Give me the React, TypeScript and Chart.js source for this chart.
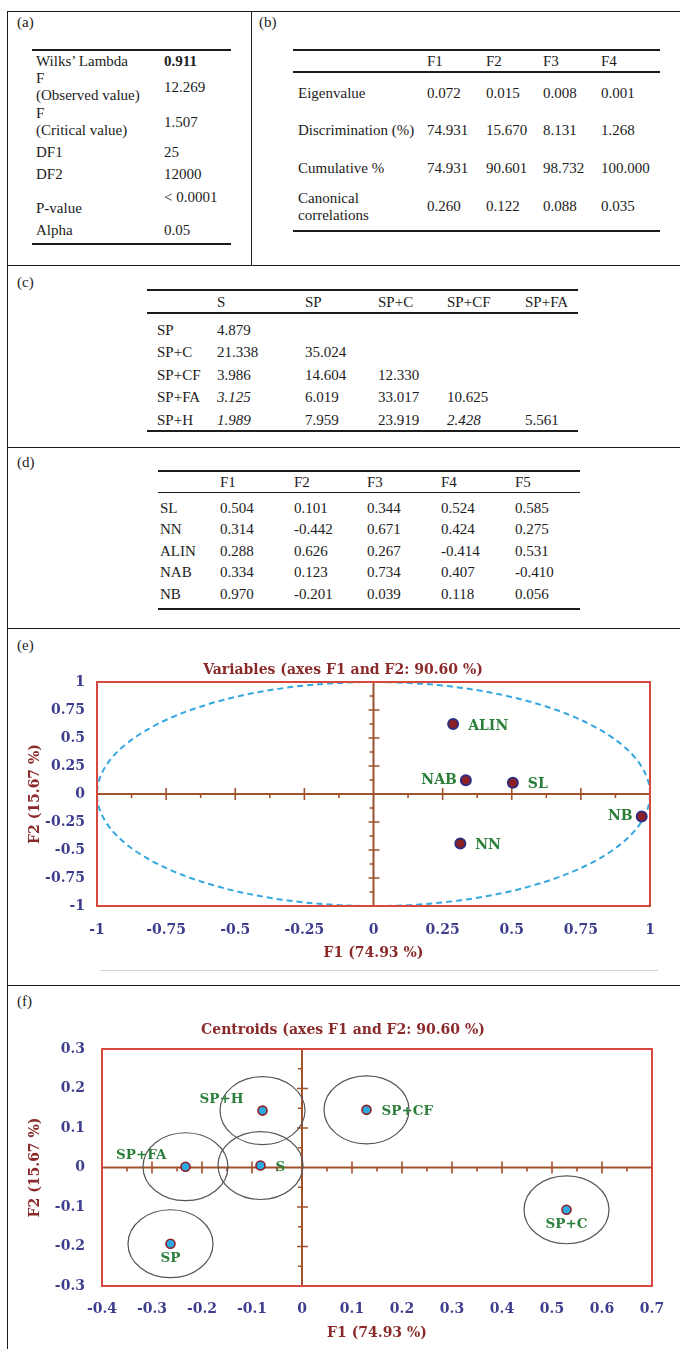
import React, { useEffect, useRef } from "react";
import { Chart, registerables } from "chart.js";
Chart.register(...registerables);

// ---------------- DATA ----------------
// (a)
const aLabels: string[][] = [["Wilks’ Lambda"], ["F", "(Observed value)"], ["F", "(Critical value)"], ["DF1"], ["DF2"], ["P-value"], ["Alpha"]];
const aValues: string[] = ["0.911", "12.269", "1.507", "25", "12000", "< 0.0001", "0.05"];
// (b)
const bCols: string[] = ["F1", "F2", "F3", "F4"];
const bRowLabels: string[][] = [["Eigenvalue"], ["Discrimination (%)"], ["Cumulative %"], ["Canonical", "correlations"]];
const bEigenvalue: string[] = ["0.072", "0.015", "0.008", "0.001"];
const bDiscrimination: string[] = ["74.931", "15.670", "8.131", "1.268"];
const bCumulative: string[] = ["74.931", "90.601", "98.732", "100.000"];
const bCanonical: string[] = ["0.260", "0.122", "0.088", "0.035"];
// (c)
const cCols: string[] = ["S", "SP", "SP+C", "SP+CF", "SP+FA"];
const cRows: string[] = ["SP", "SP+C", "SP+CF", "SP+FA", "SP+H"];
const cSP: string[] = ["4.879"];
const cSPC: string[] = ["21.338", "35.024"];
const cSPCF: string[] = ["3.986", "14.604", "12.330"];
const cSPFA: string[] = ["3.125", "6.019", "33.017", "10.625"];
const cSPH: string[] = ["1.989", "7.959", "23.919", "2.428", "5.561"];
const cItalic: string[] = ["3-0", "4-0", "4-3"];
// (d)
const dCols: string[] = ["F1", "F2", "F3", "F4", "F5"];
const dRows: string[] = ["SL", "NN", "ALIN", "NAB", "NB"];
const dSL: string[] = ["0.504", "0.101", "0.344", "0.524", "0.585"];
const dNN: string[] = ["0.314", "-0.442", "0.671", "0.424", "0.275"];
const dALIN: string[] = ["0.288", "0.626", "0.267", "-0.414", "0.531"];
const dNAB: string[] = ["0.334", "0.123", "0.734", "0.407", "-0.410"];
const dNB: string[] = ["0.970", "-0.201", "0.039", "0.118", "0.056"];
// (e) variables
const eVars: string[] = ["SL", "NN", "ALIN", "NAB", "NB"];
const eF1: number[] = [0.504, 0.314, 0.288, 0.334, 0.970];
const eF2: number[] = [0.101, -0.442, 0.626, 0.123, -0.201];
const eTicks: number[] = [-1, -0.75, -0.5, -0.25, 0, 0.25, 0.5, 0.75, 1];
const eTickLabels: string[] = ["-1", "-0.75", "-0.5", "-0.25", "0", "0.25", "0.5", "0.75", "1"];
// (f) centroids
const fGroups: string[] = ["S", "SP", "SP+C", "SP+CF", "SP+FA", "SP+H"];
const fF1: number[] = [-0.083, -0.263, 0.529, 0.129, -0.233, -0.079];
const fF2: number[] = [0.005, -0.193, -0.107, 0.146, 0.002, 0.144];
const fXTicks: number[] = [-0.4, -0.3, -0.2, -0.1, 0, 0.1, 0.2, 0.3, 0.4, 0.5, 0.6, 0.7];
const fXTickLabels: string[] = ["-0.4", "-0.3", "-0.2", "-0.1", "0", "0.1", "0.2", "0.3", "0.4", "0.5", "0.6", "0.7"];
const fYTicks: number[] = [-0.3, -0.2, -0.1, 0, 0.1, 0.2, 0.3];
const fYTickLabels: string[] = ["-0.3", "-0.2", "-0.1", "0", "0.1", "0.2", "0.3"];
const fEllipseRx = 0.085;
const fEllipseRy = 0.086;

// ---------------- STYLE ----------------
const eLabelPlace = ["right", "right", "right", "left", "left"];
const fLabelPlace = ["right", "below", "below", "right", "upleft", "upleft"];
const SERIF = '"Liberation Serif", "Times New Roman", serif';
const CHART_FONT = '"DejaVu Serif", serif';
const INK = "#1c1c1c";
const AXIS_C = "#A0522D";
const BOX_C = "#D9483F";
const TICK_C = "#3E3E8E";
const TITLE_C = "#8B2A2A";
const LABEL_C = "#2C7F3A";

const T = ({ x, y, children, bold, italic, align }: any) => (
  <div
    style={{
      position: "absolute",
      left: align === "center" ? x - 100 : x,
      width: align === "center" ? 200 : undefined,
      textAlign: align === "center" ? "center" : "left",
      top: y,
      transform: "translateY(-50%)",
      lineHeight: "17px",
      whiteSpace: "nowrap",
      fontWeight: bold ? "bold" : "normal",
      fontStyle: italic ? "italic" : "normal",
    }}
  >
    {children}
  </div>
);
const HL = ({ x1, x2, y, w = 1, c = INK }: any) => (
  <div style={{ position: "absolute", left: x1, top: y - w / 2, width: x2 - x1, height: w, background: c }} />
);
const VL = ({ x, y1, y2, w = 1, c = INK }: any) => (
  <div style={{ position: "absolute", left: x - w / 2, top: y1, width: w, height: y2 - y1, background: c }} />
);

function drawLabel(ctx: CanvasRenderingContext2D, text: string, px: number, py: number, place: string) {
  ctx.textBaseline = "middle";
  if (place === "right") { ctx.textAlign = "left"; ctx.fillText(text, px + 15, py + 2); }
  else if (place === "left") { ctx.textAlign = "right"; ctx.fillText(text, px - 9, py); }
  else if (place === "below") { ctx.textAlign = "center"; ctx.fillText(text, px, py + 15); }
  else { ctx.textAlign = "right"; ctx.fillText(text, px - 19, py - 11); }
}

function makeDecor(o: any) {
  return {
    id: "decor",
    beforeDatasetsDraw(chart: any) {
      const { ctx, chartArea: a } = chart;
      const xs = chart.scales.x, ys = chart.scales.y;
      const x0 = xs.getPixelForValue(0), y0 = ys.getPixelForValue(0);
      ctx.save();
      ctx.strokeStyle = AXIS_C;
      ctx.lineWidth = 2;
      ctx.beginPath();
      ctx.moveTo(a.left, y0); ctx.lineTo(a.right, y0);
      ctx.moveTo(x0, a.top); ctx.lineTo(x0, a.bottom);
      ctx.stroke();
      ctx.lineWidth = 1.6;
      ctx.beginPath();
      const half = o.minorStep;
      for (let v = xs.min + half; v < xs.max - 1e-9; v += half) {
        if (Math.abs(v) < 1e-9) continue;
        const px = xs.getPixelForValue(v);
        const major = Math.abs(Math.round(v / o.majorStep) * o.majorStep - v) < 1e-9;
        if (major) { ctx.moveTo(px, y0 - 6); ctx.lineTo(px, y0 + 6); }
        else { ctx.moveTo(px, y0); ctx.lineTo(px, y0 + 4); }
      }
      for (let v = ys.min + o.yMinorStep; v < ys.max - 1e-9; v += o.yMinorStep) {
        if (Math.abs(v) < 1e-9) continue;
        const py = ys.getPixelForValue(v);
        const major = Math.abs(Math.round(v / o.yMajorStep) * o.yMajorStep - v) < 1e-9;
        if (major) { ctx.moveTo(x0 - 5, py); ctx.lineTo(x0 + 6, py); }
        else { ctx.moveTo(x0 - 4, py); ctx.lineTo(x0, py); }
      }
      ctx.stroke();
      o.ellipses(ctx, xs, ys);
      ctx.strokeStyle = BOX_C;
      ctx.lineWidth = 2;
      ctx.setLineDash([]);
      ctx.strokeRect(a.left, a.top, a.right - a.left, a.bottom - a.top);
      ctx.restore();
    },
    afterDatasetsDraw(chart: any) {
      const { ctx } = chart;
      const xs = chart.scales.x, ys = chart.scales.y;
      ctx.save();
      ctx.fillStyle = LABEL_C;
      ctx.font = `bold ${o.labelSize}px ${CHART_FONT}`;
      o.names.forEach((n: string, i: number) => {
        drawLabel(ctx, n, xs.getPixelForValue(o.xs[i]), ys.getPixelForValue(o.ys[i]), o.place[i]);
      });
      ctx.fillStyle = TITLE_C;
      ctx.font = `bold 14px ${CHART_FONT}`;
      ctx.textAlign = "center";
      ctx.textBaseline = "middle";
      ctx.fillText(o.title, o.titleX, o.titleY);
      ctx.restore();
    },
  };
}

function buildConfig(o: any) {
  const X_AXIS_H = 55.4;
  const tickFont = { family: CHART_FONT, size: 14, weight: "bold" as const };
  const titleFont = { family: CHART_FONT, size: 14, weight: "bold" as const };
  return {
    type: "scatter" as const,
    data: {
      datasets: [
        {
          data: o.xs.map((v: number, i: number) => ({ x: v, y: o.ys[i] })),
          pointRadius: o.pointRadius,
          pointBackgroundColor: o.pointFill,
          pointBorderColor: o.pointStroke,
          pointBorderWidth: o.pointBorderWidth,
          showLine: false,
        },
      ],
    },
    options: {
      responsive: false,
      animation: false as const,
      devicePixelRatio: 1,
      layout: { padding: { left: 0, top: o.plot.top, right: 680 - o.plot.right, bottom: o.H - o.plot.bottom - X_AXIS_H } },
      plugins: { legend: { display: false }, tooltip: { enabled: false } },
      scales: {
        x: {
          type: "linear" as const,
          min: o.xTicks[0],
          max: o.xTicks[o.xTicks.length - 1],
          afterBuildTicks: (s: any) => { s.ticks = o.xTicks.map((v: number) => ({ value: v })); },
          afterFit: (s: any) => { s.height = X_AXIS_H; },
          grid: { display: false, drawTicks: false },
          border: { display: false },
          ticks: { padding: o.xTickPad, font: tickFont, color: TICK_C, autoSkip: false, maxRotation: 0, callback: (_v: any, i: number) => o.xLabels[i] },
          title: { display: true, text: "F1 (74.93 %)", font: titleFont, color: TITLE_C, padding: { top: 0, bottom: 0 } },
        },
        y: {
          type: "linear" as const,
          min: o.yTicks[0],
          max: o.yTicks[o.yTicks.length - 1],
          afterBuildTicks: (s: any) => { s.ticks = o.yTicks.map((v: number) => ({ value: v })); },
          afterFit: (s: any) => { s.width = o.plot.left; },
          grid: { display: false, drawTicks: false },
          border: { display: false },
          ticks: { padding: o.yTickPad, font: tickFont, color: TICK_C, autoSkip: false, callback: (_v: any, i: number) => o.yLabels[i] },
          title: { display: true, text: "F2 (15.67 %)", font: titleFont, color: TITLE_C, padding: { top: 26.6, bottom: 0 } },
        },
      },
    },
    plugins: [makeDecor(o)],
  };
}

function ChartCanvas({ top, height, opts }: any) {
  const ref = useRef<HTMLCanvasElement>(null);
  useEffect(() => {
    const chart = new Chart(ref.current as HTMLCanvasElement, buildConfig({ ...opts, H: height }) as any);
    return () => chart.destroy();
  }, []);
  return <canvas ref={ref} width={680} height={height} style={{ position: "absolute", left: 0, top, width: 680, height }} />;
}

const eOpts = {
  xs: eF1, ys: eF2, names: eVars, place: eLabelPlace,
  xTicks: eTicks, xLabels: eTickLabels, yTicks: eTicks, yLabels: eTickLabels,
  plot: { left: 97, right: 650, top: 54, bottom: 278 },
  xTickPad: 15.6, yTickPad: 12,
  majorStep: 0.25, minorStep: 0.125, yMajorStep: 0.25, yMinorStep: 0.125,
  pointRadius: 5, pointFill: "#8E1F24", pointStroke: "#2E2E7E", pointBorderWidth: 2,
  labelSize: 14,
  title: "Variables (axes F1 and F2: 90.60 %)", titleX: 343, titleY: 42,
  ellipses: (ctx: CanvasRenderingContext2D, xs: any, ys: any) => {
    const cx = xs.getPixelForValue(0), cy = ys.getPixelForValue(0);
    ctx.strokeStyle = "#35A8E0";
    ctx.lineWidth = 2;
    ctx.setLineDash([6, 4]);
    ctx.beginPath();
    ctx.ellipse(cx, cy, xs.getPixelForValue(1) - cx, cy - ys.getPixelForValue(1), 0, 0, Math.PI * 2);
    ctx.stroke();
  },
};

const fOpts = {
  xs: fF1, ys: fF2, names: fGroups, place: fLabelPlace,
  xTicks: fXTicks, xLabels: fXTickLabels, yTicks: fYTicks, yLabels: fYTickLabels,
  plot: { left: 102, right: 652, top: 63, bottom: 300 },
  xTickPad: 14.6, yTickPad: 17,
  majorStep: 0.1, minorStep: 0.05, yMajorStep: 0.1, yMinorStep: 0.05,
  pointRadius: 4.5, pointFill: "#2AA9E0", pointStroke: "#8E1F24", pointBorderWidth: 1.6,
  labelSize: 13.5,
  title: "Centroids (axes F1 and F2: 90.60 %)", titleX: 343, titleY: 44,
  ellipses: (ctx: CanvasRenderingContext2D, xs: any, ys: any) => {
    ctx.strokeStyle = "#555555";
    ctx.lineWidth = 1.2;
    ctx.setLineDash([]);
    fF1.forEach((v, i) => {
      const cx = xs.getPixelForValue(v), cy = ys.getPixelForValue(fF2[i]);
      const rx = xs.getPixelForValue(v + fEllipseRx) - cx;
      const ry = cy - ys.getPixelForValue(fF2[i] + fEllipseRy);
      ctx.beginPath();
      ctx.ellipse(cx, cy, rx, ry, 0, 0, Math.PI * 2);
      ctx.stroke();
    });
  },
};

// ---------------- LAYOUT ----------------
const aLabelY = [[61], [78, 95], [113, 130], [152], [174], [208], [230]];
const aValueY = [61, 87, 122, 152, 174, 197, 230];
const bColX = [427, 486, 543, 601];
const bRowY = [[93], [130], [168], [198, 215]];
const bValY = [93, 130, 168, 206];
const cColX = [217, 305, 378, 447, 525];
const cRowY = [330, 352, 375, 397, 420];
const dColX = [220, 294, 367, 441, 515];
const dRowY = [508, 529, 551, 572, 594];

export default function App() {
  const bVals = [bEigenvalue, bDiscrimination, bCumulative, bCanonical];
  const cVals = [cSP, cSPC, cSPCF, cSPFA, cSPH];
  const dVals = [dSL, dNN, dALIN, dNAB, dNB];
  return (
    <div style={{ position: "absolute", left: 0, top: 0, width: 680, height: 1349, background: "#fff", fontFamily: SERIF, fontSize: 15, color: INK, overflow: "hidden" }}>
      {/* frame */}
      <HL x1={7} x2={680} y={11} />
      <VL x={7} y1={11} y2={1349} />
      <VL x={251} y1={11} y2={265} />
      <HL x1={7} x2={680} y={265} />
      <HL x1={7} x2={680} y={447} />
      <HL x1={7} x2={680} y={628} />
      <HL x1={7} x2={680} y={985} />

      {/* (a) */}
      <T x={17} y={22}>(a)</T>
      <HL x1={32} x2={231} y={50} w={2} />
      {aLabels.map((lines, i) => lines.map((s, j) => <T key={`a${i}${j}`} x={36} y={aLabelY[i][j]}>{s}</T>))}
      {aValues.map((v, i) => <T key={`av${i}`} x={164} y={aValueY[i]} bold={i === 0}>{v}</T>)}
      <HL x1={32} x2={231} y={244} w={2} />

      {/* (b) */}
      <T x={259} y={22}>(b)</T>
      <HL x1={293} x2={660} y={50} w={1.5} />
      {bCols.map((c, i) => <T key={`bc${i}`} x={bColX[i]} y={61}>{c}</T>)}
      <HL x1={293} x2={660} y={72} w={1.5} />
      {bRowLabels.map((lines, i) => lines.map((s, j) => <T key={`b${i}${j}`} x={298} y={bRowY[i][j]}>{s}</T>))}
      {bVals.map((row, i) => row.map((v, j) => <T key={`bv${i}${j}`} x={bColX[j]} y={bValY[i]}>{v}</T>))}
      <HL x1={293} x2={660} y={231} w={1.5} />

      {/* (c) */}
      <T x={17} y={282}>(c)</T>
      <HL x1={147} x2={578} y={290} w={2} />
      {cCols.map((c, i) => <T key={`cc${i}`} x={cColX[i]} y={302}>{c}</T>)}
      <HL x1={147} x2={578} y={313} w={1.5} />
      {cRows.map((r, i) => <T key={`cr${i}`} x={157} y={cRowY[i]}>{r}</T>)}
      {cVals.map((row, i) => row.map((v, j) => <T key={`cv${i}${j}`} x={cColX[j]} y={cRowY[i]} italic={cItalic.includes(`${i}-${j}`)}>{v}</T>))}
      <HL x1={147} x2={578} y={431} w={2} />

      {/* (d) */}
      <T x={17} y={462}>(d)</T>
      <HL x1={158} x2={580} y={471} w={2} />
      {dCols.map((c, i) => <T key={`dc${i}`} x={dColX[i]} y={482}>{c}</T>)}
      <HL x1={158} x2={580} y={492} w={1} />
      {dRows.map((r, i) => <T key={`dr${i}`} x={160} y={dRowY[i]}>{r}</T>)}
      {dVals.map((row, i) => row.map((v, j) => <T key={`dv${i}${j}`} x={dColX[j]} y={dRowY[i]}>{v}</T>))}
      <HL x1={158} x2={580} y={609} w={2} />

      {/* (e) */}
      <T x={17} y={645}>(e)</T>
      <ChartCanvas top={628} height={356} opts={eOpts} />
      <HL x1={100} x2={658} y={970} w={1} c="#d4d4d4" />

      {/* (f) */}
      <T x={17} y={1001}>(f)</T>
      <ChartCanvas top={986} height={363} opts={fOpts} />
    </div>
  );
}
